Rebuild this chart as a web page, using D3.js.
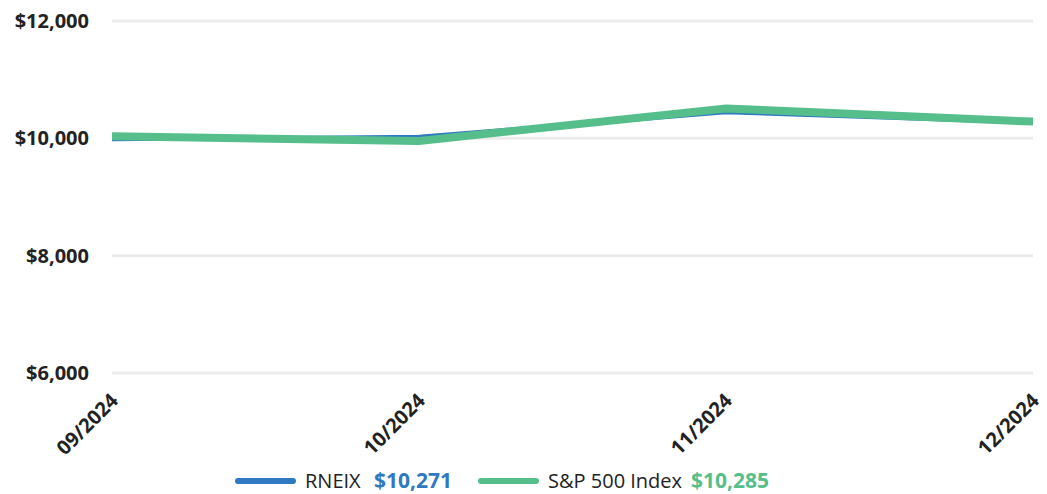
<!DOCTYPE html>
<html>
<head>
<meta charset="utf-8">
<script src="https://cdn.jsdelivr.net/npm/d3@7"></script>
<style>
  html, body { margin: 0; padding: 0; background: #fff; }
  svg { display: block; font-family: "Open Sans", sans-serif; }
</style>
</head>
<body>
<svg id="chart" width="1047" height="494"></svg>
<script>
// Growth of a hypothetical $10,000 investment
const months = ["09/2024", "10/2024", "11/2024", "12/2024"];
const fundValues = [9985, 10025, 10445, 10271];
const indexValues = [10035, 9955, 10510, 10285];
const yTicks = [6000, 8000, 10000, 12000];
const seriesNames = ["RNEIX", "S&P 500 Index"];
const seriesColors = ["#2f78c2", "#55be8b"];

const svg = d3.select("#chart");
const margin = { left: 112, right: 14, top: 21, bottom: 121 };
const W = 1047, H = 494;
const FONT = "'Open Sans', sans-serif";

const x = d3.scalePoint().domain(months).range([margin.left, W - margin.right]);
const y = d3.scaleLinear().domain([6000, 12000]).range([H - margin.bottom, margin.top]);

const fmt = d => "$" + d3.format(",")(d);

// horizontal gridlines
svg.append("g")
  .selectAll("line")
  .data(yTicks)
  .join("line")
  .attr("x1", x.range()[0])
  .attr("x2", x.range()[1])
  .attr("y1", d => y(d))
  .attr("y2", d => y(d))
  .attr("stroke", "#ebebeb")
  .attr("stroke-width", 3);

// y axis labels
const yAxis = svg.append("g")
  .attr("transform", `translate(${margin.left - 23},0)`)
  .call(d3.axisLeft(y).tickValues(yTicks).tickFormat(fmt).tickSize(0).tickPadding(0));
yAxis.select(".domain").remove();
yAxis.selectAll("text")
  .attr("font-size", 20)
  .attr("font-weight", 700)
  .attr("fill", "#222")
  .attr("font-family", FONT);

// x axis labels, rotated
const xAxis = svg.append("g")
  .attr("transform", `translate(0,${H - margin.bottom + 22})`)
  .call(d3.axisBottom(x).tickSize(0).tickPadding(0));
xAxis.select(".domain").remove();
xAxis.selectAll("text")
  .attr("font-size", 20)
  .attr("font-weight", 700)
  .attr("fill", "#222")
  .attr("font-family", FONT)
  .attr("text-anchor", "end")
  .attr("dy", "0.35em")
  .attr("transform", "translate(2,2) rotate(-45)");

// lines
const line = d3.line().x((d, i) => x(months[i])).y(d => y(d));
const series = [
  { name: seriesNames[0], values: fundValues, color: seriesColors[0], width: 4 },
  { name: seriesNames[1], values: indexValues, color: seriesColors[1], width: 8 }
];
svg.append("g")
  .selectAll("path")
  .data(series)
  .join("path")
  .attr("d", d => line(d.values))
  .attr("fill", "none")
  .attr("stroke", d => d.color)
  .attr("stroke-width", d => d.width)
  .attr("stroke-linejoin", "miter");

// legend: swatch, series name, ending value
const legend = svg.append("g").attr("transform", "translate(0,481)");
const legendItems = [
  { x: 235, valueX: 374, name: seriesNames[0], value: fundValues[fundValues.length - 1], color: seriesColors[0] },
  { x: 478, valueX: 691, name: seriesNames[1], value: indexValues[indexValues.length - 1], color: seriesColors[1] }
];
legendItems.forEach(it => {
  const g = legend.append("g");
  g.append("line")
    .attr("x1", it.x + 3).attr("x2", it.x + 58)
    .attr("y1", 0).attr("y2", 0)
    .attr("stroke", it.color)
    .attr("stroke-width", 6)
    .attr("stroke-linecap", "round");
  g.append("text")
    .attr("x", it.x + 70)
    .attr("dy", "0.35em")
    .attr("font-size", 20)
    .attr("font-family", FONT)
    .attr("fill", "#222")
    .text(it.name);
  g.append("text")
    .attr("x", it.valueX)
    .attr("dy", "0.35em")
    .attr("font-size", 21)
    .attr("font-weight", 700)
    .attr("font-family", FONT)
    .attr("fill", it.color)
    .text(fmt(it.value));
});
</script>
</body>
</html>
